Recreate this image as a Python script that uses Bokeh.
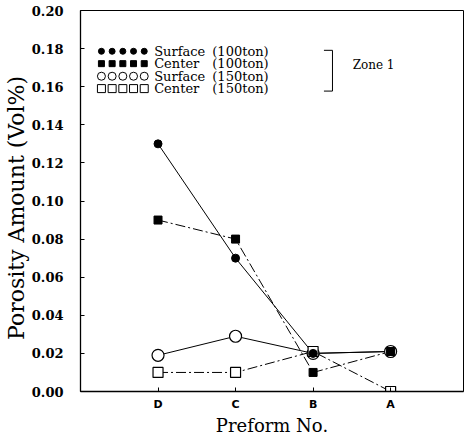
from bokeh.plotting import figure
from bokeh.models import Range1d, FixedTicker
from bokeh.core.properties import value
from bokeh.embed import file_html
from bokeh.resources import INLINE

# ---- data ----
preforms = ["D", "C", "B", "A"]
xpos = [1, 2, 3, 4]
surface_100 = [0.130, 0.070, 0.020, 0.021]
center_100 = [0.090, 0.080, 0.010, 0.021]
surface_150 = [0.019, 0.029, 0.020, 0.021]
center_150 = [0.010, 0.010, 0.021, 0.000]
y_ticks = [0.00, 0.02, 0.04, 0.06, 0.08, 0.10, 0.12, 0.14, 0.16, 0.18, 0.20]
legend_labels = ["Surface", "Center", "Surface", "Center"]
legend_loads = ["(100ton)", "(100ton)", "(150ton)", "(150ton)"]
zone_label = "Zone  1"

p = figure(width=466, height=438, output_backend="svg", toolbar_location=None,
           x_range=Range1d(0, 4.94), y_range=Range1d(0, 0.2),
           min_border_left=79, min_border_right=3, min_border_top=10, min_border_bottom=43)
p.background_fill_color = "white"
p.border_fill_color = "white"
p.outline_line_color = "black"
p.outline_line_width = 1
p.xgrid.visible = False
p.ygrid.visible = False

# axes
p.xaxis.ticker = FixedTicker(ticks=xpos)
p.xaxis.major_label_overrides = {x: s for x, s in zip(xpos, preforms)}
p.yaxis.ticker = FixedTicker(ticks=y_ticks)
p.yaxis.major_label_overrides = {t: f"{t:.2f}" for t in y_ticks}
for ax in (p.xaxis, p.yaxis):
    ax.axis_line_color = "black"
    ax.axis_line_width = 1.3
    ax.major_tick_in = 4
    ax.major_tick_out = 0
    ax.minor_tick_line_color = None
    ax.major_tick_line_color = "black"
p.yaxis.major_label_text_font = "DejaVu Serif"
p.yaxis.major_label_text_font_style = "bold"
p.yaxis.major_label_text_font_size = "13px"
p.yaxis.major_label_text_color = "black"
p.yaxis.major_label_standoff = 17
p.xaxis.major_label_text_font = "DejaVu Sans"
p.xaxis.major_label_text_font_style = "bold"
p.xaxis.major_label_text_font_size = "11px"
p.xaxis.major_label_text_color = "black"
p.xaxis.major_label_standoff = 6

p.yaxis.axis_label = "Porosity  Amount  (Vol%)"
p.yaxis.axis_label_text_font = "DejaVu Serif"
p.yaxis.axis_label_text_font_style = "normal"
p.yaxis.axis_label_text_font_size = "22px"
p.yaxis.axis_label_text_color = "black"
p.yaxis.axis_label_standoff = 0
p.xaxis.axis_label = "Preform No."
p.xaxis.axis_label_text_font = "DejaVu Serif"
p.xaxis.axis_label_text_font_style = "normal"
p.xaxis.axis_label_text_font_size = "18px"
p.xaxis.axis_label_text_color = "black"
p.xaxis.axis_label_standoff = 1

# lines
p.line(xpos, surface_100, line_color="black", line_width=1)
p.line(xpos, center_100, line_color="black", line_width=1, line_dash="10 3 2 3")
p.line(xpos, surface_150, line_color="black", line_width=1)
p.line(xpos, center_150, line_color="black", line_width=1, line_dash="10 3 2 3")

# markers
p.scatter(xpos, surface_150, marker="circle", size=12, fill_color="white", line_color="black", line_width=1.2)
p.scatter(xpos, center_150, marker="square", size=10, fill_color="white", line_color="black", line_width=1.2)
p.scatter(xpos, surface_100, marker="circle", size=8, fill_color="black", line_color="black")
p.scatter(xpos, center_100, marker="square", size=8, fill_color="black", line_color="black")

# legend (decoration, in data coordinates)
row_y = [0.1786, 0.1721, 0.1655, 0.1590]
mk_x = [0.27 + 0.138 * i for i in range(5)]
styles = [("circle", 6, "black"), ("square", 6, "black"), ("circle", 8, "white"), ("square", 8, "white")]
for (mk, sz, fc), yy in zip(styles, row_y):
    p.scatter(mk_x, [yy] * 5, marker=mk, size=sz, fill_color=fc, line_color="black", line_width=1)
p.text(x=[0.95] * 4, y=row_y, text=legend_labels, text_font=value("DejaVu Serif"),
       text_font_size="13px", text_baseline="middle", text_align="left", text_color="black")
p.text(x=[1.70] * 4, y=row_y, text=legend_loads, text_font=value("DejaVu Serif"),
       text_font_size="13px", text_baseline="middle", text_align="left", text_color="black")
p.segment(x0=[3.25, 3.14, 3.14], y0=[0.1791, 0.1791, 0.1577],
          x1=[3.25, 3.25, 3.25], y1=[0.1577, 0.1791, 0.1577], line_color="black", line_width=1)
p.text(x=[3.51], y=[0.1713], text=[zone_label], text_font=value("DejaVu Serif"),
       text_font_size="12px", text_baseline="middle", text_align="left", text_color="black")

open("out.html", "w").write(file_html(p, INLINE))
